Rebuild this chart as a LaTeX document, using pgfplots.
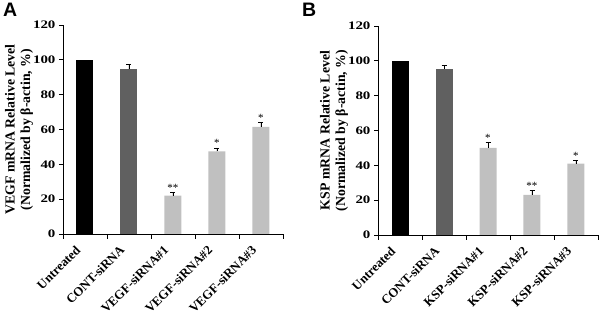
\documentclass[border=0pt]{standalone}
\usepackage{pgfplots}
\pgfplotsset{compat=1.18}
\usepackage{fontspec}
\setmainfont{Liberation Serif}
\setsansfont{Liberation Sans}
\newfontfamily\tickfont[FakeStretch=1.3]{Liberation Serif}
\definecolor{dgray}{HTML}{606060}
\definecolor{lgray}{HTML}{C0C0C0}
\tikzset{sigstar/.style={font=\fontsize{11}{12}\selectfont, anchor=south, inner sep=0pt}}
\pgfplotsset{
 panel/.style={
  scale only axis, width=220pt, height=209pt,
  xmin=-0.5, xmax=4.5, ymin=0, ymax=120,
  axis lines=left, axis line style={-, line width=0.9pt},
  ytick={0,20,...,120},
  xtick={0,...,4},
  major x tick style={draw=none},
  minor xtick={-0.5,0.5,...,4.5},
  tick align=outside, major tick length=4pt, minor tick length=5pt,
  every tick/.style={black, line width=0.9pt},
  /pgf/number format/assume math mode=true,
  yticklabel style={font=\tickfont\bfseries\fontsize{11.5}{13}\selectfont},
  xticklabel style={font=\bfseries\fontsize{12.8}{14}\selectfont, xshift=-10pt, yshift=-5pt, rotate=45, anchor=north east, inner sep=1pt},
  every axis y label/.style={at={(axis description cs:-0.2,0.5)}, rotate=90, anchor=center,
     font=\bfseries\fontsize{13.8}{15.5}\selectfont, align=center},
  ybar, bar width=17pt, bar shift=0pt,
  clip=false,
 },
 errs/.style={error bars/.cd, y dir=plus, y explicit, error bar style={black, line width=0.5pt}, error mark options={rotate=90, mark size=2.5pt, black, line width=0.5pt}},
}
\begin{document}
\begin{tikzpicture}
\useasboundingbox (0,0) rectangle (600pt,315pt);
% Panel A
\begin{axis}[panel, at={(63pt,81pt)}, anchor=south west,
  xticklabels={Untreated, CONT-siRNA, VEGF-siRNA\#1, VEGF-siRNA\#2, VEGF-siRNA\#3},
  ylabel={VEGF mRNA Relative Level\\(Normalized by β-actin, \%)}]
\addplot[fill=black, draw=none] coordinates {(0,100)};
\addplot[fill=dgray, draw=none, errs] coordinates {(1,94.5) +- (0,3)};
\addplot[fill=lgray, draw=none, errs] coordinates {(2,22) +- (0,2) (3,47.5) +- (0,2) (4,61.5) +- (0,2.5)};
\node[sigstar] at (axis cs:2,24.5) {**};
\node[sigstar] at (axis cs:3,50) {*};
\node[sigstar] at (axis cs:4,64.5) {*};
\end{axis}
% Panel B
\begin{axis}[panel, at={(378pt,80pt)}, anchor=south west,
  xticklabels={Untreated, CONT-siRNA, KSP-siRNA\#1, KSP-siRNA\#2, KSP-siRNA\#3},
  ylabel={KSP mRNA Relative Level\\(Normalized by β-actin, \%)}]
\addplot[fill=black, draw=none] coordinates {(0,100)};
\addplot[fill=dgray, draw=none, errs] coordinates {(1,95.5) +- (0,2)};
\addplot[fill=lgray, draw=none, errs] coordinates {(2,50) +- (0,3) (3,23) +- (0,2.5) (4,41) +- (0,2)};
\node[sigstar] at (axis cs:2,53.5) {*};
\node[sigstar] at (axis cs:3,26) {**};
\node[sigstar] at (axis cs:4,43.5) {*};
\end{axis}
\node[font=\sffamily\bfseries\fontsize{19.5}{20}\selectfont, anchor=north west, inner sep=0pt] at (3pt,312pt) {A};
\node[font=\sffamily\bfseries\fontsize{19.5}{20}\selectfont, anchor=north west, inner sep=0pt] at (302pt,312pt) {B};
\end{tikzpicture}
\end{document}
